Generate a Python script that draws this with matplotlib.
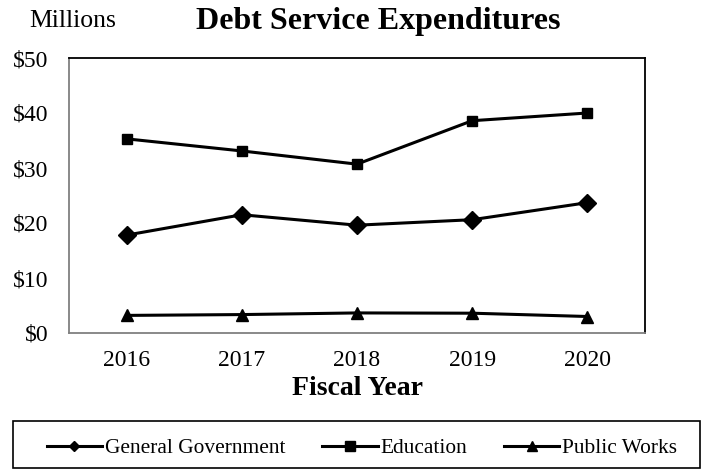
import matplotlib
matplotlib.use("Agg")
import matplotlib.pyplot as plt
from matplotlib.patches import Rectangle
from matplotlib.lines import Line2D

plt.rcParams['font.family'] = ['Liberation Serif', 'DejaVu Serif']

years = ["2016", "2017", "2018", "2019", "2020"]
general_government = [17.8, 21.5, 19.6, 20.6, 23.7]
education = [35.3, 33.1, 30.7, 38.6, 40.0]
public_works = [3.2, 3.35, 3.65, 3.6, 3.0]

W, H = 705, 470
fig = plt.figure(figsize=(W / 100, H / 100), dpi=100)
ax = fig.add_axes([69 / W, 1 - 333 / H, 576 / W, 275 / H])

x = range(len(years))
ax.plot(x, general_government, color='black', lw=2.2, marker='D', markersize=9)
ax.plot(x, education, color='black', lw=2.2, marker='s', markersize=7.5)
ax.plot(x, public_works, color='black', lw=2.2, marker='^', markersize=8)

ax.set_xlim(-0.5, 4.5)
ax.set_ylim(0, 50)
ax.set_xticks(list(x))
ax.set_xticklabels(years, fontsize=17)
ax.set_yticks(range(0, 51, 10))
ax.set_yticklabels(["$" + str(v) for v in range(0, 51, 10)], fontsize=17)
ax.tick_params(length=0)
ax.tick_params(axis='y', pad=15)
ax.tick_params(axis='x', pad=12)

ax.spines['left'].set_color('#808080')
ax.spines['bottom'].set_color('#808080')
for s in ['top', 'right']:
    ax.spines[s].set_color('black')
for s in ax.spines.values():
    s.set_linewidth(1.3)

ax.set_xlabel("Fiscal Year", fontsize=20, fontweight='bold', labelpad=4)

fig.text(378 / W, 1 - 21 / H, "Debt Service Expenditures", fontsize=23,
         fontweight='bold', ha='center', va='center')
fig.text(29 / W, 1 - 21 / H, "Millions", fontsize=18.5, ha='left', va='center')

# legend entries (smaller diamond like the original)
h_gg = Line2D([], [], color='black', lw=2.2, marker='D', markersize=5)
h_ed = Line2D([], [], color='black', lw=2.2, marker='s', markersize=7.5)
h_pw = Line2D([], [], color='black', lw=2.2, marker='^', markersize=7.5)
fig.legend([h_gg, h_ed, h_pw], ["General Government", "Education", "Public Works"],
           loc='center', bbox_to_anchor=(362 / W, 1 - 448 / H), ncol=3,
           fontsize=15.4, frameon=False, handlelength=2.6, handletextpad=0.14,
           columnspacing=1.7)
fig.patches.append(Rectangle((13 / W, 1 - 468 / H), 687 / W, 47 / H,
                             transform=fig.transFigure, fill=False,
                             edgecolor='black', lw=1.2))

fig.savefig("out.png", dpi=100)
